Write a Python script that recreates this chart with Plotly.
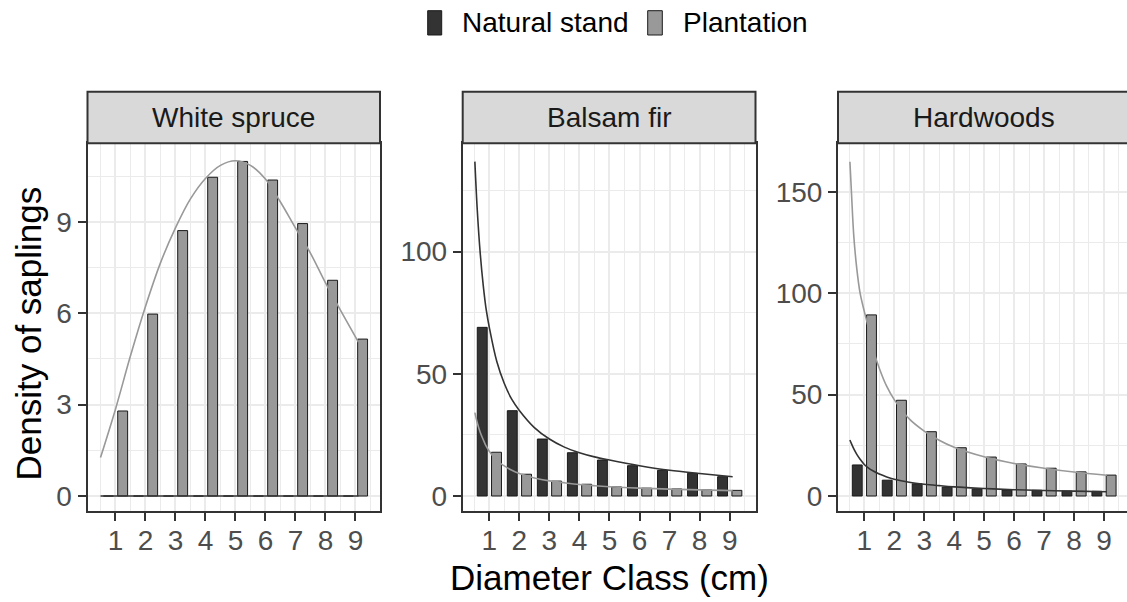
import plotly.graph_objects as go

W, H = 1127, 602

# ---------------- data ----------------
classes = [1, 2, 3, 4, 5, 6, 7, 8, 9]
tick_labels = ["1", "2", "3", "4", "5", "6", "7", "8", "9"]
species = ["White spruce", "Balsam fir", "Hardwoods"]
series_names = ["Natural stand", "Plantation"]

ws_natural = [0, 0, 0, 0, 0, 0, 0, 0, 0]
ws_plantation = [2.79, 5.97, 8.71, 10.46, 10.98, 10.37, 8.94, 7.08, 5.15]
bf_natural = [69.0, 34.9, 23.3, 17.7, 14.7, 12.4, 10.5, 9.3, 7.9]
bf_plantation = [17.9, 8.9, 6.1, 4.8, 3.7, 3.2, 2.9, 2.5, 2.3]
hw_natural = [15.3, 7.8, 6.0, 4.4, 3.4, 3.0, 2.8, 2.4, 2.3]
hw_plantation = [89.3, 47.2, 31.7, 23.8, 19.2, 15.8, 13.7, 11.9, 10.3]

# fitted curves
ws_curve_x = [0.5, 1, 1.5, 2, 2.5, 3, 3.5, 4, 4.5, 5, 5.5, 6, 6.5, 7, 7.5, 8, 8.5, 9.1]
ws_nat_curve_y = [0, 0, 0, 0, 0, 0, 0, 0, 0, 0, 0, 0, 0, 0, 0, 0, 0, 0]
ws_pla_curve_y = [1.26, 2.85, 4.6, 6.22, 7.65, 8.8, 9.75, 10.42, 10.85, 11.0, 10.85, 10.4, 9.65, 8.8, 7.97, 7.0, 6.1, 5.05]

bf_curve_x = [0.52, 0.6, 0.7, 0.8, 0.9, 1.0, 1.25, 1.5, 1.75, 2, 2.5, 3, 3.5, 4, 4.5, 5, 6, 7, 8, 9.1]
bf_nat_curve_y = [136.8, 117, 99, 86, 76, 69, 55, 46, 39.5, 35, 28, 23.3, 20, 17.7, 16, 14.7, 12.4, 10.5, 9.2, 7.9]
bf_pla_curve_y = [34.1, 30, 26, 23, 20.3, 18.3, 14.5, 12.3, 10.5, 9.2, 7.4, 6.2, 5.4, 4.7, 4.2, 3.8, 3.2, 2.8, 2.5, 2.2]

hw_curve_x = [0.52, 0.57, 0.65, 0.75, 0.86, 1.0, 1.12, 1.3, 1.5, 1.75, 2, 2.5, 3, 3.5, 4, 5, 6, 7, 8, 9.1]
hw_nat_curve_y = [27.6, 25.8, 23.2, 20.5, 18.1, 15.5, 14.0, 12.3, 10.8, 9.4, 8.3, 6.8, 5.8, 5.1, 4.5, 3.7, 3.1, 2.7, 2.4, 2.1]
hw_pla_curve_y = [164.8, 150, 128, 112, 100, 91, 84, 72, 63, 54, 47.5, 38, 32, 27.5, 24, 19.3, 16, 13.7, 11.8, 10.2]

y_ticks = [[0, 3, 6, 9], [0, 50, 100], [0, 50, 100, 150]]
y_minor = [[1.5, 4.5, 7.5, 10.5], [25, 75, 125], [25, 75, 125]]
x_minor = [0.5, 1.5, 2.5, 3.5, 4.5, 5.5, 6.5, 7.5, 8.5, 9.5]

# ---------------- styling / layout ----------------
DARK = "#333333"
LIGHT = "#999999"
GRID = "#EBEBEB"
FONT = "Liberation Sans, Arial, sans-serif"

panel_px = [(87.5, 380.0), (462.7, 755.5), (838.0, 1127.0)]
x_ranges = [[0.067, 9.82], [0.115, 9.86], [0.122, 9.77]]
y_ranges = [[-0.492, 11.575], [-6.14, 144.3], [-7.40, 173.9]]
plot_top, plot_bot = 143.3, 511.0
strip_top = 91.7

def px(x):
    return x / W

def py(y):
    return 1 - y / H

bar_data = [(ws_natural, ws_plantation), (bf_natural, bf_plantation), (hw_natural, hw_plantation)]
curve_data = [(ws_curve_x, ws_nat_curve_y, ws_pla_curve_y),
              (bf_curve_x, bf_nat_curve_y, bf_pla_curve_y),
              (hw_curve_x, hw_nat_curve_y, hw_pla_curve_y)]

fig = go.Figure()

for i in range(3):
    xa = "x" if i == 0 else f"x{i+1}"
    ya = "y" if i == 0 else f"y{i+1}"
    nat, pla = bar_data[i]
    fig.add_trace(go.Bar(x=classes, y=nat, xaxis=xa, yaxis=ya, name=series_names[0],
                         offset=-0.40, width=0.33, marker=dict(color=DARK, line=dict(color="#1A1A1A", width=1)),
                         showlegend=False))
    fig.add_trace(go.Bar(x=classes, y=pla, xaxis=xa, yaxis=ya, name=series_names[1],
                         offset=0.075, width=0.33, marker=dict(color=LIGHT, line=dict(color="#1A1A1A", width=1)),
                         showlegend=False))
for i in range(3):
    xa = "x" if i == 0 else f"x{i+1}"
    ya = "y" if i == 0 else f"y{i+1}"
    cx, cn, cp = curve_data[i]
    fig.add_trace(go.Scatter(x=cx, y=cp, xaxis=xa, yaxis=ya, mode="lines", line_shape="spline",
                             line=dict(color=LIGHT, width=1.6), showlegend=False))
    fig.add_trace(go.Scatter(x=cx, y=cn, xaxis=xa, yaxis=ya, mode="lines", line_shape="spline",
                             line=dict(color=DARK, width=1.6), showlegend=False))

layout = dict(
    width=W, height=H, margin=dict(l=0, r=0, t=0, b=0),
    paper_bgcolor="white", plot_bgcolor="white",
    barmode="overlay", showlegend=False,
    font=dict(family=FONT, size=28, color="#4D4D4D"),
)

for i in range(3):
    xk = "xaxis" if i == 0 else f"xaxis{i+1}"
    yk = "yaxis" if i == 0 else f"yaxis{i+1}"
    x0p, x1p = panel_px[i]
    layout[xk] = dict(
        domain=[px(x0p), min(1.0, px(x1p))], range=x_ranges[i],
        anchor="y" if i == 0 else f"y{i+1}",
        tickmode="array", tickvals=classes, ticktext=tick_labels,
        ticks="outside", ticklen=8, tickwidth=2, tickcolor=DARK,
        tickfont=dict(family=FONT, size=28, color="#4D4D4D"),
        ticklabelstandoff=-5,
        showline=True, linecolor=DARK, linewidth=2, mirror=True,
        showgrid=True, gridcolor=GRID, gridwidth=2, zeroline=False,
        minor=dict(tickvals=x_minor, showgrid=True, gridcolor=GRID, gridwidth=1, ticks=""),
        fixedrange=True,
    )
    layout[yk] = dict(
        domain=[py(plot_bot), py(plot_top)], range=y_ranges[i],
        anchor="x" if i == 0 else f"x{i+1}",
        tickmode="array", tickvals=y_ticks[i], ticktext=[str(v) for v in y_ticks[i]],
        ticks="outside", ticklen=8, tickwidth=2, tickcolor=DARK,
        tickfont=dict(family=FONT, size=28, color="#4D4D4D"),
        showline=True, linecolor=DARK, linewidth=2, mirror=(i < 2),
        showgrid=True, gridcolor=GRID, gridwidth=2, zeroline=False,
        minor=dict(tickvals=y_minor[i], showgrid=True, gridcolor=GRID, gridwidth=1, ticks=""),
        fixedrange=True,
    )

shapes = []
annotations = []
for i in range(3):
    x0p, x1p = panel_px[i]
    shapes.append(dict(type="rect", xref="paper", yref="paper",
                       x0=px(x0p), x1=px(x1p + (8 if i == 2 else 0)), y0=py(plot_top), y1=py(strip_top),
                       fillcolor="#D9D9D9", line=dict(color=DARK, width=2), layer="above"))
    annotations.append(dict(xref="paper", yref="paper", x=px((x0p + (x1p if i < 2 else 1130.5)) / 2),
                            y=py((strip_top + plot_top) / 2), text=species[i], showarrow=False,
                            xanchor="center", yanchor="middle",
                            font=dict(family=FONT, size=28, color="#1A1A1A")))

# legend (manual)
leg = [(427.7, 441.7, DARK, 460.0, series_names[0]), (647.7, 662.3, LIGHT, 681.0, series_names[1])]
for (a, b, c, tx, name) in leg:
    shapes.append(dict(type="rect", xref="paper", yref="paper", x0=px(a), x1=px(b),
                       y0=py(35.0), y1=py(10.7), fillcolor=c, line=dict(color="#1A1A1A", width=1)))
    annotations.append(dict(xref="paper", yref="paper", x=px(tx), y=py(22.5), text=name,
                            showarrow=False, xanchor="left", yanchor="middle",
                            font=dict(family=FONT, size=28, color="#000000")))

# axis titles
annotations.append(dict(xref="paper", yref="paper", x=px(609), y=py(577), text="Diameter Class (cm)",
                        showarrow=False, xanchor="center", yanchor="middle",
                        font=dict(family=FONT, size=35, color="#000000")))
annotations.append(dict(xref="paper", yref="paper", x=px(28), y=py(333.5), text="Density of saplings",
                        showarrow=False, xanchor="center", yanchor="middle", textangle=-90,
                        font=dict(family=FONT, size=35, color="#000000")))

layout["shapes"] = shapes
layout["annotations"] = annotations
fig.update_layout(**layout)

fig.write_html("out.html", config={"displayModeBar": False},
               post_script="document.body.style.margin='0';document.body.style.overflow='hidden';")
